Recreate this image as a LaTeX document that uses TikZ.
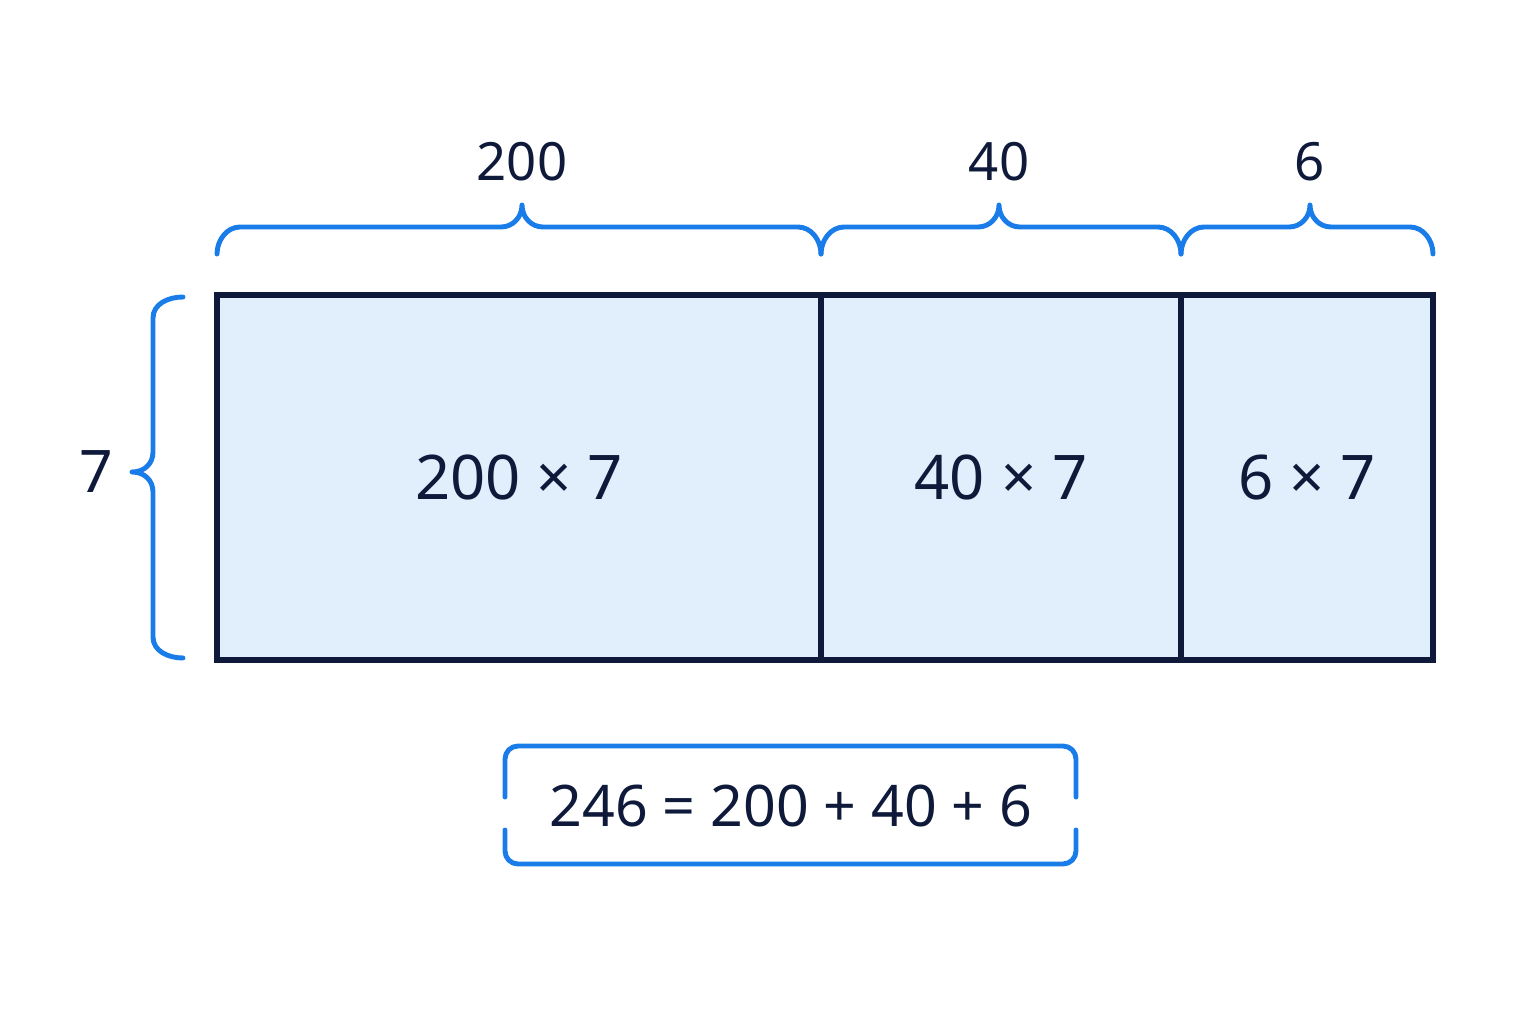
\documentclass[tikz,border=0pt]{standalone}
\usepackage{fontspec}
\setmainfont{Noto Sans}
\usetikzlibrary{positioning}

\definecolor{inkNavy}{HTML}{0F1A3B}
\definecolor{braceBlue}{HTML}{1A7CE8}
\definecolor{cellBlue}{HTML}{E1EEFC}

\begin{document}
\begin{tikzpicture}[x=0.01cm, y=-0.01cm,
        cell/.style={draw=inkNavy, fill=cellBlue, line width=1.6pt, minimum height=3.65cm, inner sep=0pt, text=inkNavy, font=\fontsize{17.5}{20}\selectfont},
        widthlabel/.style={text=inkNavy, inner sep=0pt, font=\fontsize{15}{18}\selectfont},
        bracket/.style={draw=braceBlue, line width=1.4pt, line cap=round, line join=round}]
        \useasboundingbox (0,0) rectangle (1536,1024);

        % area model cells
        \node (cellA) [cell, minimum width=6.04cm] at (519,477.5) {200 × 7};
        \node (cellB) [cell, minimum width=3.60cm] at (1001,477.5) {40 × 7};
        \node (cellC) [cell, minimum width=2.52cm] at (1307,477.5) {6 × 7};

        % braces on top, with their widths
        \foreach \xa/\xt/\xb/\w in {217/522/821/200, 821/999/1181/40, 1181/1310/1433/6} {
            \coordinate (ba\w) at (\xa,254);
            \coordinate (bb\w) at (\xb,254);
            \draw[bracket] (ba\w) .. controls (\xa,240) and (\xa+10,227) .. (\xa+23,227)
                -- (\xt-21,227) .. controls (\xt-9,227) and (\xt,217) .. (\xt,205)
                .. controls (\xt,217) and (\xt+9,227) .. (\xt+21,227)
                -- (\xb-23,227) .. controls (\xb-10,227) and (\xb,240) .. (bb\w);
            \node (w\w) [widthlabel] at (\xt,162) {\w};
        }

        % brace on the left
        \coordinate (h0) at (183,297);
        \coordinate (h1) at (183,658);
        \draw[bracket] (h0) .. controls (168,297) and (153,304) .. (153,318)
            -- (153,452) .. controls (153,464) and (144,472) .. (132,472)
            .. controls (144,472) and (153,480) .. (153,492)
            -- (153,637) .. controls (153,651) and (168,658) .. (h1);
        \node (h7) [widthlabel, font=\fontsize{16.7}{20}\selectfont] at (96,472) {7};

        % sum in open box
        \node (sum) [text=inkNavy, inner sep=0pt, font=\fontsize{16.3}{20}\selectfont] at (791,806) {246 = 200 + 40 + 6};
        \draw[bracket, rounded corners=0.13cm]
            (505,797) |- (1076,746) -- (1076,797);
        \draw[bracket, rounded corners=0.13cm]
            (505,830) |- (1076,864) -- (1076,830);
    \end{tikzpicture}
\end{document}
